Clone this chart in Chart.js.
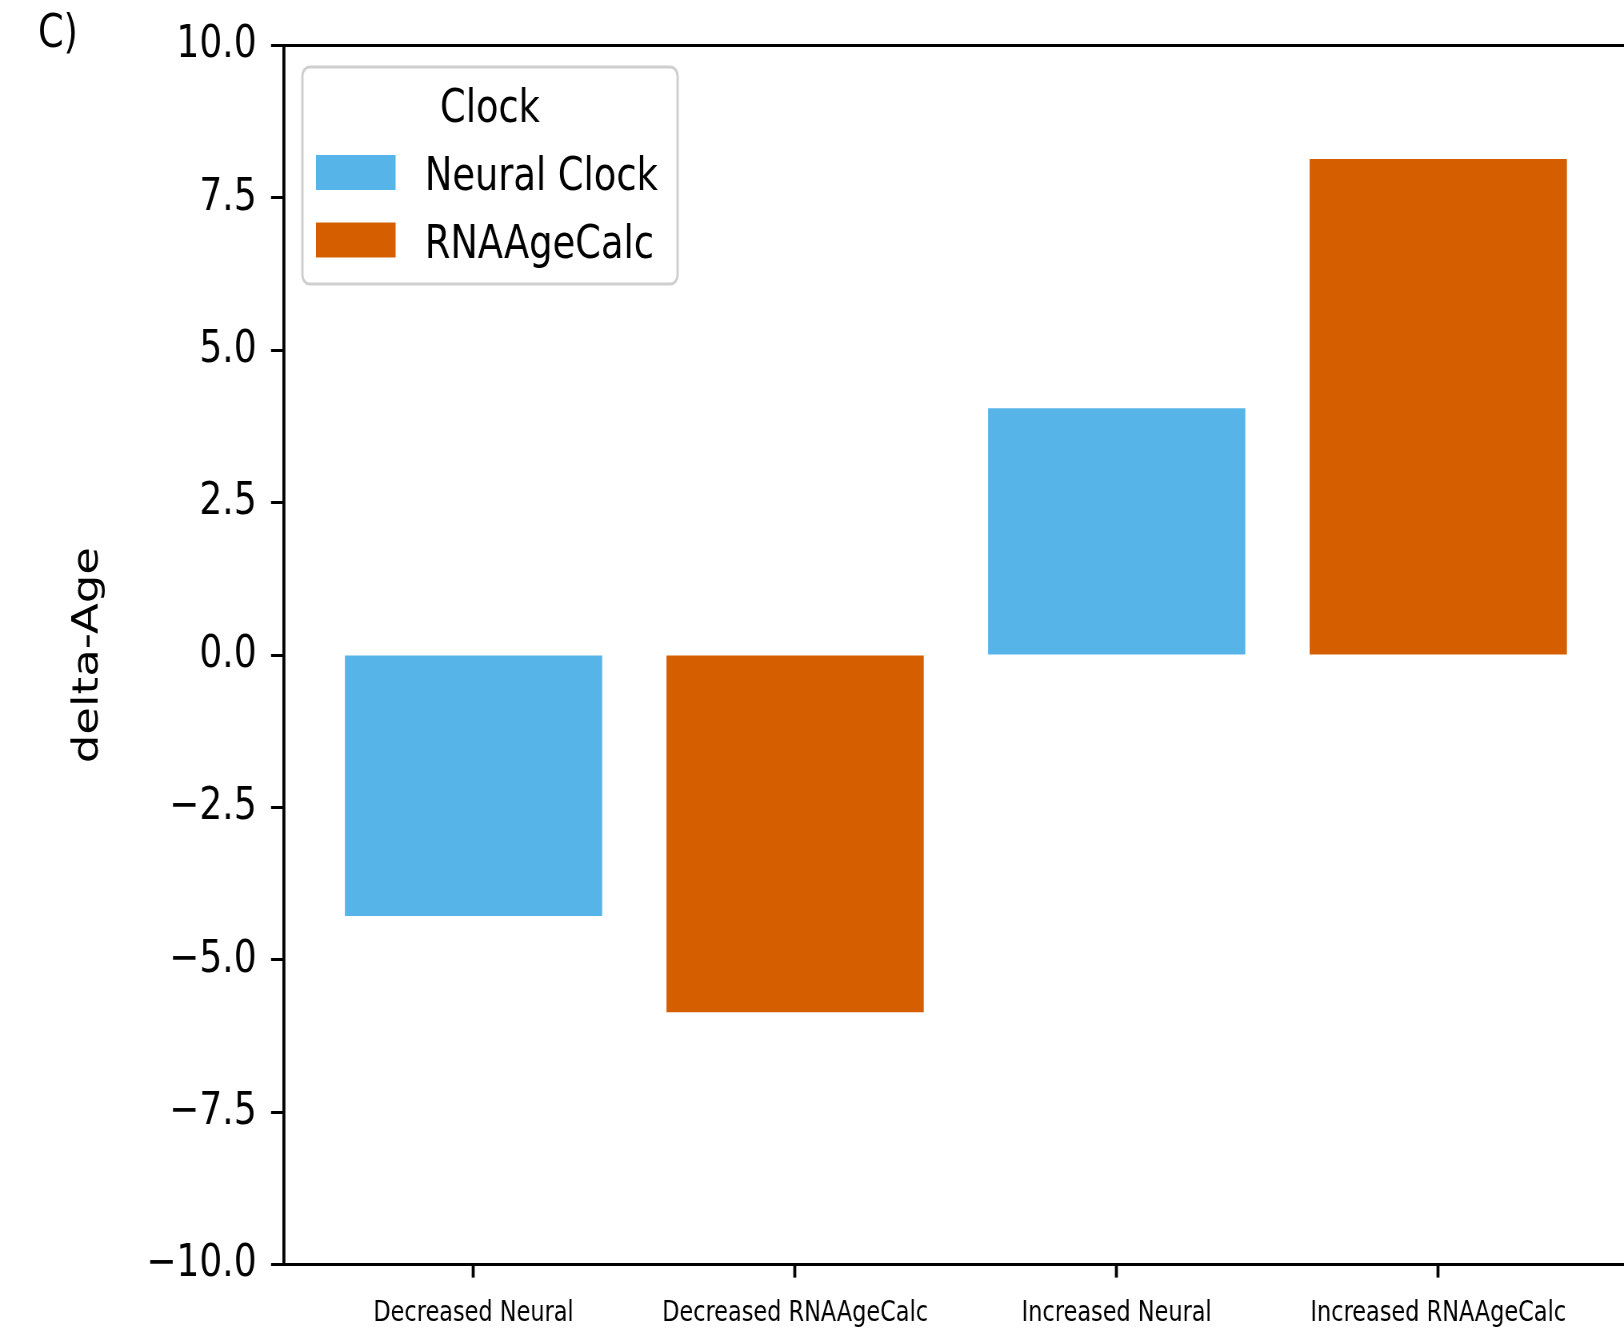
<!DOCTYPE html>
<html>
<head>
<meta charset="utf-8">
<script src="https://cdn.jsdelivr.net/npm/chart.js@4.4.1/dist/chart.umd.min.js"></script>
<style>
  html, body { margin: 0; padding: 0; background: #fff; overflow: hidden; width: 1624px; height: 1329px; }
  #wrap { position: absolute; left: 0; top: 0; width: 2050px; height: 1329px; }
  #chart { display: block; transform: scaleX(0.8); transform-origin: 0 0; }
</style>
</head>
<body>
<div id="wrap"><canvas id="chart" width="2050" height="1329"></canvas></div>
<script>
// Groups along the x axis
const categories = ['Decreased Neural', 'Decreased RNAAgeCalc', 'Increased Neural', 'Increased RNAAgeCalc'];
// delta-Age per group, one array per clock (null where the clock has no bar)
const neuralClock = [-4.28, null, 4.05, null];
const rnaAgeCalc = [null, -5.86, null, 8.14];
// y axis tick values
const yTicks = [-10, -7.5, -5, -2.5, 0, 2.5, 5, 7.5, 10];
const seriesNames = ['Neural Clock', 'RNAAgeCalc'];
const seriesColors = ['#56B4E9', '#D55E00'];
const legendTitle = 'Clock';
const panelLetter = 'C)';

const FONT = '"DejaVu Sans", "Liberation Sans", sans-serif';

function toPoints(values) {
  return values
    .map((v, i) => (v === null ? null : { x: i, y: v }))
    .filter(p => p !== null);
}

// Draws the top/right spines, the panel letter and the boxed legend.
const frameAndLegend = {
  id: 'frameAndLegend',
  afterDraw(chart) {
    const { ctx, chartArea: a } = chart;
    ctx.save();
    ctx.strokeStyle = '#000';
    ctx.lineWidth = 3;
    ctx.beginPath();
    ctx.moveTo(a.left, a.top);
    ctx.lineTo(a.right, a.top);
    ctx.stroke();
    ctx.lineWidth = 3.75;
    ctx.beginPath();
    ctx.moveTo(a.right, a.top);
    ctx.lineTo(a.right, a.bottom);
    ctx.stroke();

    ctx.fillStyle = '#000';
    ctx.font = '46px ' + FONT;
    ctx.textAlign = 'left';
    ctx.textBaseline = 'alphabetic';
    ctx.fillText(panelLetter, 47.5, 47);

    // legend box
    const bx = a.left + 23.2, by = a.top + 21.4, bw = 469, bh = 217;
    ctx.fillStyle = 'rgba(255,255,255,0.8)';
    ctx.strokeStyle = '#cfcfcf';
    ctx.lineWidth = 3;
    ctx.beginPath();
    ctx.roundRect(bx, by, bw, bh, 9);
    ctx.fill();
    ctx.stroke();

    ctx.fillStyle = '#000';
    ctx.font = '46px ' + FONT;
    ctx.textAlign = 'center';
    ctx.fillText(legendTitle, bx + bw / 2, by + 55);

    const swatchY = [by + 88, by + 155.5];
    const textY = [by + 123, by + 191];
    ctx.textAlign = 'left';
    chart.data.datasets.forEach((ds, i) => {
      ctx.fillStyle = ds.backgroundColor;
      ctx.fillRect(bx + 17, swatchY[i], 99.5, 35);
      ctx.fillStyle = '#000';
      ctx.fillText(ds.label, bx + 153, textY[i]);
    });
    ctx.restore();
  }
};

new Chart(document.getElementById('chart'), {
  type: 'bar',
  data: {
    datasets: [
      { label: seriesNames[0], data: toPoints(neuralClock), backgroundColor: seriesColors[0],
        barPercentage: 0.8, categoryPercentage: 1.0, grouped: false, borderWidth: 0 },
      { label: seriesNames[1], data: toPoints(rnaAgeCalc), backgroundColor: seriesColors[1],
        barPercentage: 0.8, categoryPercentage: 1.0, grouped: false, borderWidth: 0 }
    ]
  },
  options: {
    animation: false,
    responsive: false,
    layout: { padding: { top: 45.6, right: 15, bottom: 0, left: 0 } },
    plugins: { legend: { display: false }, tooltip: { enabled: false } },
    scales: {
      x: {
        type: 'linear',
        min: -0.59,
        max: 3.59,
        offset: false,
        afterBuildTicks: s => { s.ticks = categories.map((_, i) => ({ value: i })); },
        afterFit: s => { s.height = 64.4; },
        ticks: {
          callback: v => categories[v] ?? '',
          font: { family: FONT, size: 28 },
          color: '#000',
          padding: 19,
          maxRotation: 0,
          autoSkip: false
        },
        grid: { drawOnChartArea: false, drawTicks: true, tickLength: 13, tickWidth: 3.75, tickColor: '#000', offset: false },
        border: { display: true, color: '#000', width: 3 }
      },
      y: {
        min: -10,
        max: 10,
        afterBuildTicks: s => { s.ticks = yTicks.map(v => ({ value: v })); },
        afterFit: s => { s.width = 354.8; },
        ticks: {
          callback: v => (v < 0 ? '\u2212' : '') + Math.abs(v).toFixed(1),
          font: { family: FONT, size: 45 },
          color: '#000',
          padding: 18
        },
        grid: { drawOnChartArea: false, drawTicks: true, tickLength: 16, tickWidth: 3, tickColor: '#000' },
        border: { display: true, color: '#000', width: 3.75 },
        title: {
          display: true,
          text: 'delta-Age',
          font: { family: FONT, size: 45 },
          color: '#000',
          padding: { top: 83, bottom: 0 }
        }
      }
    }
  },
  plugins: [frameAndLegend]
});
</script>
</body>
</html>
